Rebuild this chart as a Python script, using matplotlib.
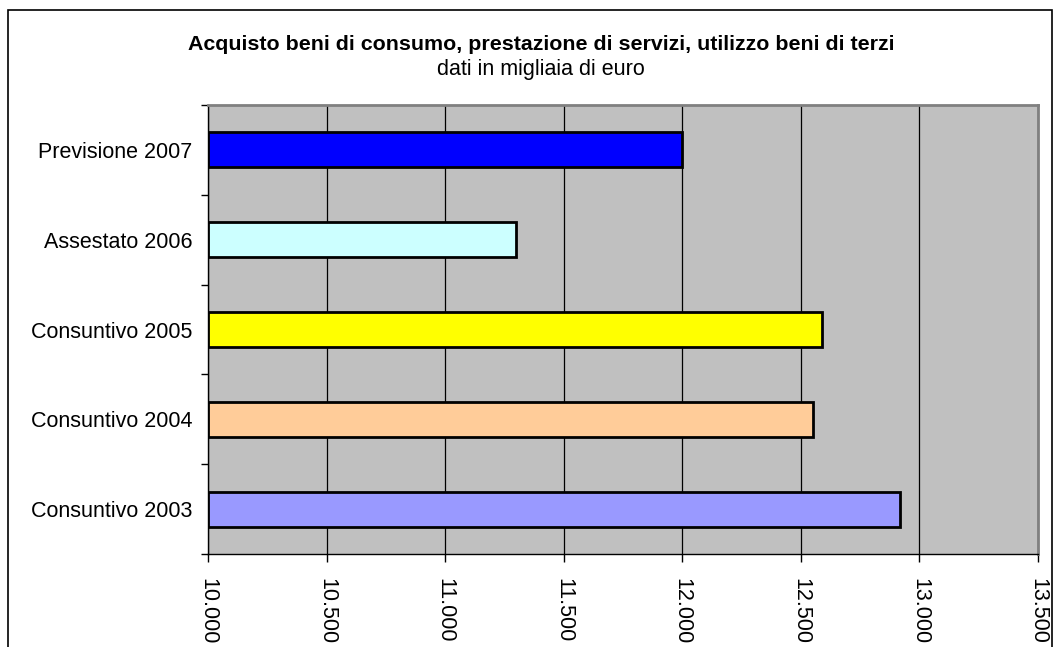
import matplotlib.pyplot as plt
from matplotlib.patches import Rectangle
from matplotlib.ticker import FuncFormatter

categories = ["Consuntivo 2003", "Consuntivo 2004", "Consuntivo 2005",
              "Assestato 2006", "Previsione 2007"]
values = [12920, 12550, 12590, 11300, 12000]
colors = ["#9999FF", "#FFCC99", "#FFFF00", "#CCFFFF", "#0000FF"]
xticks = [10000, 10500, 11000, 11500, 12000, 12500, 13000, 13500]

plt.rcParams['font.family'] = ['Liberation Sans', 'DejaVu Sans']

fig = plt.figure(figsize=(10.6, 6.47), dpi=100)
ax = fig.add_axes([208 / 1060, 1 - 554 / 647, 830 / 1060, 449 / 647])
ax.set_facecolor("#C0C0C0")

ypos = range(len(categories))
ax.barh(ypos, [v - 10000 for v in values], left=10000, height=0.39,
        color=colors, edgecolor="black", linewidth=2, zorder=3)

ax.set_xlim(10000, 13500)
ax.set_ylim(-0.5, len(categories) - 0.5)
ax.set_xticks(xticks)
ax.xaxis.set_major_formatter(FuncFormatter(lambda v, p: f"{int(v):,}".replace(",", ".")))
ax.grid(axis="x", color="black", linewidth=0.9, zorder=1)

ax.set_yticks(list(ypos))
ax.set_yticklabels(categories, fontsize=15.5)
ax.set_yticks([i - 0.5 for i in range(len(categories) + 1)], minor=True)
ax.tick_params(axis="y", which="major", length=0, pad=11)
ax.tick_params(axis="y", which="minor", length=5, width=1, direction="out")
ax.tick_params(axis="x", length=6, width=1, direction="out", pad=11, labelsize=15.5,
               labelrotation=-90)

for s in ["top", "right"]:
    ax.spines[s].set_color("#808080")
    ax.spines[s].set_linewidth(2)
for s in ["left", "bottom"]:
    ax.spines[s].set_color("black")
    ax.spines[s].set_linewidth(1)

fig.text(541 / 1060, 1 - 44 / 647, "Acquisto beni di consumo, prestazione di servizi, utilizzo beni di terzi",
         ha="center", va="center", fontsize=15.4, fontweight="bold")
fig.text(541 / 1060, 1 - 70 / 647, "dati in migliaia di euro", ha="center", va="center", fontsize=15.5)

fig.patches.append(Rectangle((8 / 1060, -0.1), 1044 / 1060, 1.1 - 10 / 647,
                             transform=fig.transFigure, fill=False,
                             edgecolor="black", linewidth=1.2))

fig.savefig("out.png", dpi=100)
